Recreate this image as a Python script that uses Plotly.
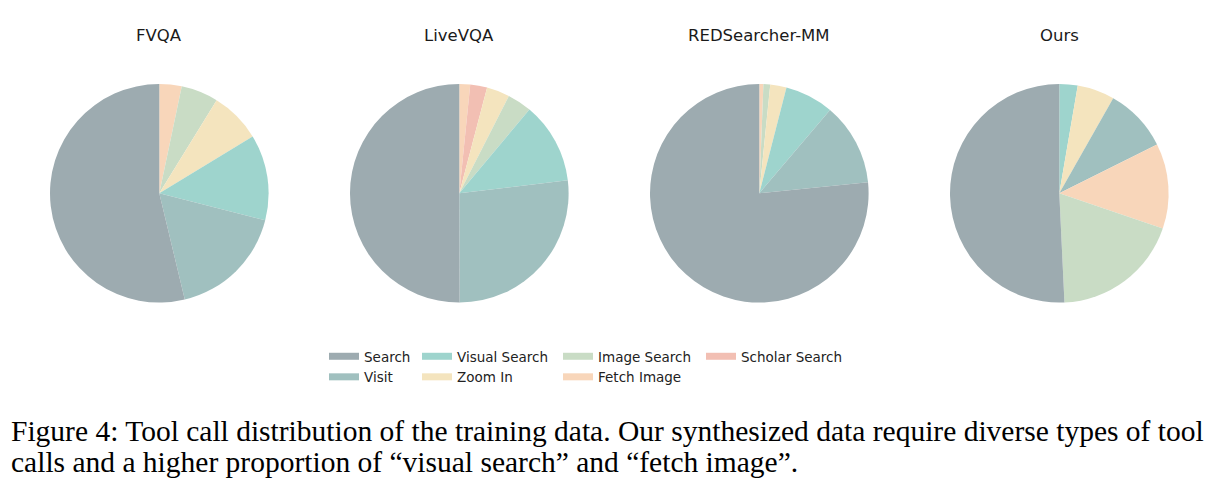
import plotly.graph_objects as go

W, H = 1219, 497

tools = ["Search", "Visit", "Visual Search", "Zoom In", "Image Search", "Scholar Search", "Fetch Image"]
colors = ["#9DABB0", "#A0C0BF", "#9ED4CD", "#F4E4BE", "#C9DCC5", "#F2BFB3", "#F8D6BA"]

datasets = ["FVQA", "LiveVQA", "REDSearcher-MM", "Ours"]
fvqa = [53.8, 17.3, 12.7, 7.5, 5.5, 0.0, 3.3]
livevqa = [50.1, 26.9, 12.0, 3.4, 3.6, 2.5, 1.6]
redsearcher = [76.6, 12.2, 7.2, 2.4, 1.0, 0.0, 0.6]
ours = [50.7, 9.4, 2.7, 5.5, 19.0, 0.0, 12.6]
series = [fvqa, livevqa, redsearcher, ours]

caption_lines = [
    "Figure 4: Tool call distribution of the training data. Our synthesized data require diverse types of tool",
    "calls and a higher proportion of \u201cvisual search\u201d and \u201cfetch image\u201d.",
]

# legend columns (items listed column by column)
legend_cols = [["Search", "Visit"], ["Visual Search", "Zoom In"], ["Image Search", "Fetch Image"], ["Scholar Search"]]

# layout (pixels)
pie_cx = [159.3, 459.3, 759.3, 1059.3]
pie_cy = 193.3
pie_r = 109.3
title_y = 35
legend_text_x = [364, 457, 598, 741]
legend_top = 341
caption_y = [431, 462]

color_of = dict(zip(tools, colors))

fig = go.Figure()
for name, vals, cx in zip(datasets, series, pie_cx):
    # smallest slices first, drawn clockwise from 12 o'clock
    pairs = sorted([(v, t) for t, v in zip(tools, vals) if v > 0])
    labs = [t for v, t in pairs]
    vs = [v for v, t in pairs]
    fig.add_trace(go.Pie(
        labels=labs, values=vs, sort=False, direction="clockwise", rotation=0,
        marker=dict(colors=[color_of[l] for l in labs], line=dict(width=0)),
        textinfo="none", showlegend=False, name=name,
        domain=dict(x=[(cx - pie_r) / W, (cx + pie_r) / W],
                    y=[1 - (pie_cy + pie_r) / H, 1 - (pie_cy - pie_r) / H]),
    ))

legend_names = ["legend", "legend2", "legend3", "legend4"]
for lg, col in zip(legend_names, legend_cols):
    for lab in col:
        fig.add_trace(go.Scatter(x=[None], y=[None], mode="lines", name=lab,
                                 line=dict(color=color_of[lab], width=7),
                                 legend=lg, hoverinfo="skip"))

layout_legends = {}
for lg, tx in zip(legend_names, legend_text_x):
    layout_legends[lg] = dict(
        x=(tx - 40) / W, y=1 - legend_top / H, xanchor="left", yanchor="top",
        orientation="v", bgcolor="rgba(0,0,0,0)", borderwidth=0,
        font=dict(family="DejaVu Sans", size=13.5, color="#222222"),
        itemwidth=30, tracegroupgap=0,
    )

annotations = []
for name, cx in zip(datasets, pie_cx):
    annotations.append(dict(text=name, x=cx / W, y=1 - title_y / H, xref="paper", yref="paper",
                            xanchor="center", yanchor="middle", showarrow=False,
                            font=dict(family="DejaVu Sans", size=16.5, color="#1a1a1a")))
for line, cy in zip(caption_lines, caption_y):
    annotations.append(dict(text=line, x=9 / W, y=1 - cy / H, xref="paper", yref="paper",
                            xanchor="left", yanchor="middle", align="left", showarrow=False,
                            font=dict(family="Liberation Serif", size=29.5, color="#000000")))

fig.update_layout(
    width=W, height=H, margin=dict(l=0, r=0, t=0, b=0),
    paper_bgcolor="white", plot_bgcolor="white",
    xaxis=dict(visible=False), yaxis=dict(visible=False),
    annotations=annotations,
    **layout_legends,
)

fig.write_html("out.html")
